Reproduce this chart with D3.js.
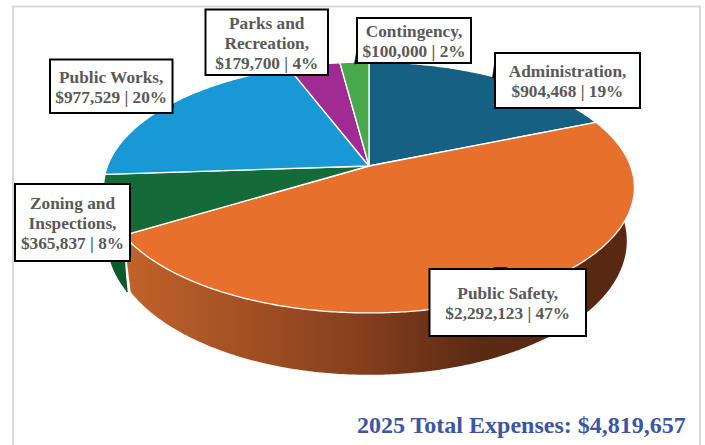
<!doctype html>
<html lang="en">
<head>
<meta charset="utf-8">
<title>2025 Total Expenses</title>
<style>
  html, body { margin: 0; padding: 0; background: #fff; }
  svg { display: block; }
  text { font-family: "Liberation Serif", serif; font-weight: bold; }
</style>
</head>
<body>
<svg id="chart" width="705" height="445"></svg>
<script src="https://cdn.jsdelivr.net/npm/d3@7"></script>
<script>
// data
var categories = ["Administration", "Public Safety", "Zoning and Inspections", "Public Works", "Parks and Recreation", "Contingency"];
var values = [904468, 2292123, 365837, 977529, 179700, 100000];
var percents = [19, 47, 8, 20, 4, 2];
var nameLines = [["Administration,"], ["Public Safety,"], ["Zoning and", "Inspections,"], ["Public Works,"], ["Parks and", "Recreation,"], ["Contingency,"]];
var titleYear = "2025";

// colours
var topColors = ["#166083", "#e7702c", "#156b37", "#1899d6", "#a02b93", "#4aa84c"];
var wallColors = ["#0f4560", "#a8501f", "#0f5a2c", "#116f9c", "#731f6a", "#357a36"];

// label boxes: left, top, right, bottom
var boxes = [[495, 53, 640, 108], [429.5, 269, 586, 336], [15, 184, 130, 261], [50, 59.5, 172.5, 113], [205.5, 9.5, 328, 75], [357, 18, 471, 63]];
var leaders = [[[495, 60], [492.5, 78], [495, 78]], [[494, 269], [494, 267.5], [507, 267.5], [507, 269]], [], [[172.5, 103], [173.5, 106], [172.5, 109]], [], [[358, 44], [354.5, 64], [358, 63]]];

var svg = d3.select("#chart");

// perspective disc: top face and bottom face of the pie
var p = 0.171;
var topFace = { x: 369, y: 166, rx: 261.5, ry: 121.8 };
var bottomFace = { x: 369, y: 218, rx: 254, ry: 130 };
var bottomFaceLeft = { x: 369, y: 218, rx: 258, ry: 130 };

function project(face, angle) {
  var u = Math.sin(angle), v = Math.cos(angle), w = 1 + p * v;
  return [face.x + face.rx * u / w, face.y - face.ry * v / w];
}

function arcPoints(face, a0, a1) {
  var n = Math.max(2, Math.ceil(Math.abs(a1 - a0) / 0.01));
  return d3.range(n + 1).map(function(i) {
    return project(face, a0 + (a1 - a0) * i / n);
  });
}

var line = d3.line();
var slices = d3.pie().sort(null)(values);

// frame
svg.append("rect")
  .attr("x", 13).attr("y", 6.5)
  .attr("width", 687).attr("height", 470)
  .attr("fill", "#fff")
  .attr("stroke", "#d9d9d9").attr("stroke-width", 2);

// gradient on the orange wall
var defs = svg.append("defs");
var grad = defs.append("linearGradient")
  .attr("id", "wallOrange")
  .attr("gradientUnits", "userSpaceOnUse")
  .attr("x1", 130).attr("x2", 630).attr("y1", 0).attr("y2", 0);
grad.append("stop").attr("offset", "0%").attr("stop-color", "#c0622a");
grad.append("stop").attr("offset", "45%").attr("stop-color", "#86401e");
grad.append("stop").attr("offset", "70%").attr("stop-color", "#5b2a13");
grad.append("stop").attr("offset", "100%").attr("stop-color", "#582812");

// walls, only the front slices show
slices.forEach(function(d, i) {
  if (i != 1 && i != 2) return;
  var pts = arcPoints(topFace, d.startAngle, d.endAngle)
    .concat(arcPoints(i == 1 ? bottomFace : bottomFaceLeft, d.endAngle, d.startAngle));
  svg.append("path")
    .attr("d", line(pts) + "Z")
    .attr("fill", i == 1 ? "url(#wallOrange)" : wallColors[i]);
  if (i == 1) {
    // bright edge where the slice was cut
    var edge = [project(topFace, d.endAngle), project(bottomFace, d.endAngle)];
    svg.append("path")
      .attr("d", line(edge))
      .attr("transform", "translate(-1.5,0)")
      .attr("stroke", "#fff").attr("stroke-width", 1.4).attr("fill", "none");
    svg.append("path")
      .attr("d", line(edge))
      .attr("transform", "translate(-3.5,0)")
      .attr("stroke", "#0a3d1e").attr("stroke-width", 1.2).attr("fill", "none");
  }
});

// top faces
slices.forEach(function(d, i) {
  var pts = [[topFace.x, topFace.y]].concat(arcPoints(topFace, d.startAngle, d.endAngle));
  svg.append("path")
    .attr("d", line(pts) + "Z")
    .attr("fill", topColors[i])
    .attr("stroke", "#fff")
    .attr("stroke-width", 1.3)
    .attr("stroke-linejoin", "round");
});

// callouts
leaders.forEach(function(pts) {
  if (!pts.length) return;
  svg.append("path").attr("d", line(pts) + "Z").attr("fill", "#000").attr("stroke", "#000").attr("stroke-width", 0.6);
});

boxes.forEach(function(b, i) {
  svg.append("rect")
    .attr("x", b[0]).attr("y", b[1])
    .attr("width", b[2] - b[0]).attr("height", b[3] - b[1])
    .attr("fill", "#fff")
    .attr("stroke", "#000")
    .attr("stroke-width", 2);

  var lines = nameLines[i].concat([d3.format("$,")(values[i]) + " | " + percents[i] + "%"]);
  var lh = 20;
  var cy = (b[1] + b[3]) / 2;
  var t = svg.append("text")
    .attr("text-anchor", "middle")
    .attr("font-size", 17.3)
    .attr("fill", "#595959");
  lines.forEach(function(s, j) {
    t.append("tspan")
      .attr("x", (b[0] + b[2]) / 2)
      .attr("y", cy + (j - (lines.length - 1) / 2) * lh + 6.3)
      .text(s);
  });
});

// total
svg.append("text")
  .attr("x", 357).attr("y", 433)
  .attr("font-size", 24)
  .attr("fill", "#3a56a5")
  .text(titleYear + " Total Expenses: " + d3.format("$,")(d3.sum(values)));
</script>
</body>
</html>
